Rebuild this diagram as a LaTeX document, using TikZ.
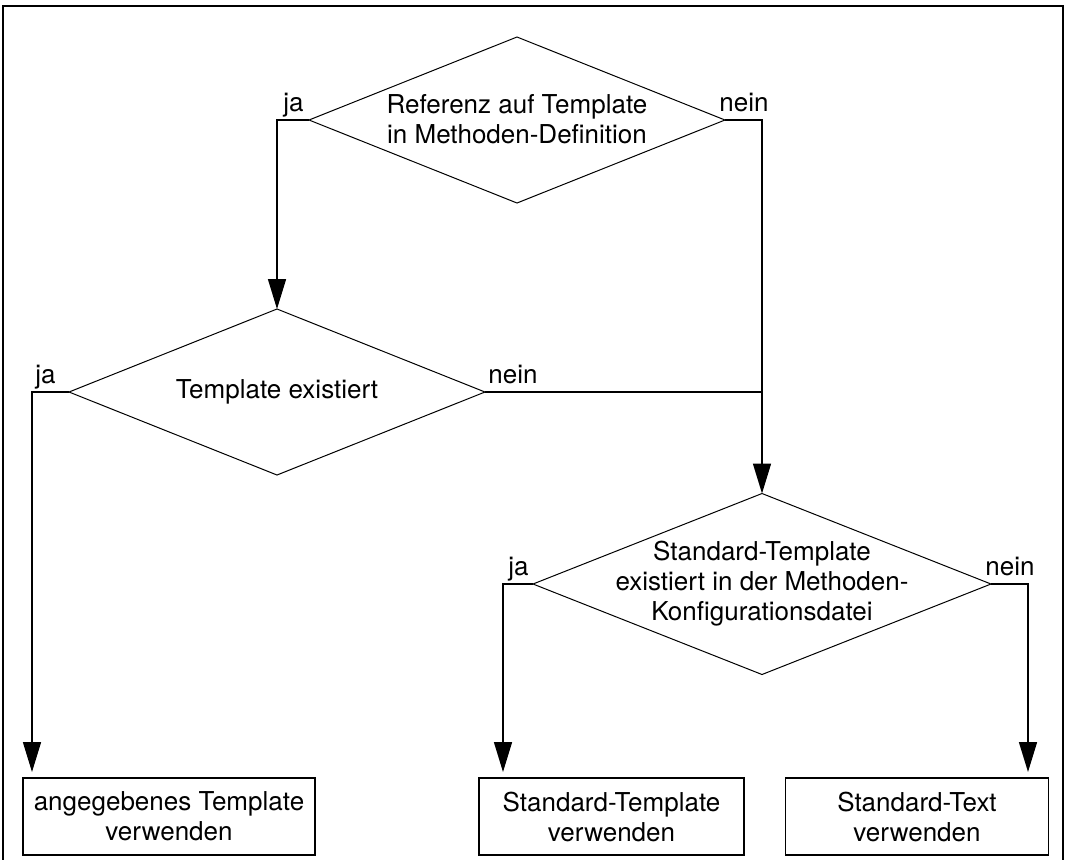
\documentclass[tikz,border=0pt]{standalone}
\usepackage{fontspec}
\setmainfont{TeX Gyre Heros}
\usetikzlibrary{shapes.geometric,arrows.meta}
\begin{document}
\begin{tikzpicture}[x=0.5pt,y=-0.5pt,
  every node/.style={font=\fontsize{13pt}{15pt}\selectfont},
  decision/.style={diamond,draw,line width=0.5pt,inner sep=0pt,outer sep=0pt},
  action/.style={rectangle,draw,line width=0.75pt,inner sep=0pt,outer sep=0pt,
    align=center,minimum height=38.5pt},
  flow/.style={draw,line width=0.75pt},
  arr/.style={flow,-{Triangle[length=15pt,width=9pt]}},
  branch/.style={anchor=base west,inner sep=0pt}
]
\useasboundingbox (0,0) rectangle (1067,859);
% outer frame
\draw[line width=1.1pt] (3,870) -- (3,6) -- (1063,6) -- (1063,870);

% decisions
\node[decision,minimum width=208pt,minimum height=83pt] (d1) at (517,120) {};
\node[align=center] (d1t) at (517,119) {Referenz auf Template\\in Methoden-Definition};
\node[decision,minimum width=208pt,minimum height=83pt] (d2) at (277,392) {};
\node[align=center] (d2t) at (277,392) {Template existiert};
\node[decision,minimum width=229pt,minimum height=90.5pt] (d3) at (762,584) {};
\node[align=center] (d3t) at (762,584) {Standard-Template\\existiert in der Methoden-\\Konfigurationsdatei};

% actions
\node[action,minimum width=146pt] (b1) at (169,816.5) {angegebenes Template\\verwenden};
\node[action,minimum width=132.5pt] (b2) at (611.5,816.5) {Standard-Template\\verwenden};
\node[action,minimum width=131.5pt] (b3) at (917,816.5) {Standard-Text\\verwenden};

% arrow end points above the actions
\coordinate (a1) at (32,772);
\coordinate (a2) at (503,772);
\coordinate (a3) at (1028,772);

% connectors
\draw[arr] (d1.west) -| (d2.north);
\draw[arr] (d1.east) -| (d3.north);
\draw[flow] (d2.east) -- (d2.east -| d3.north);
\draw[arr] (d2.west) -| (a1);
\draw[arr] (d3.west) -| (a2);
\draw[arr] (d3.east) -| (a3);

% branch labels
\node[branch] (l1) at (283,111) {ja};
\node[branch] (l2) at (719,111) {nein};
\node[branch] (l3) at (35,383) {ja};
\node[branch] (l4) at (488,383) {nein};
\node[branch] (l5) at (508,575) {ja};
\node[branch] (l6) at (985,575) {nein};
\end{tikzpicture}
\end{document}
